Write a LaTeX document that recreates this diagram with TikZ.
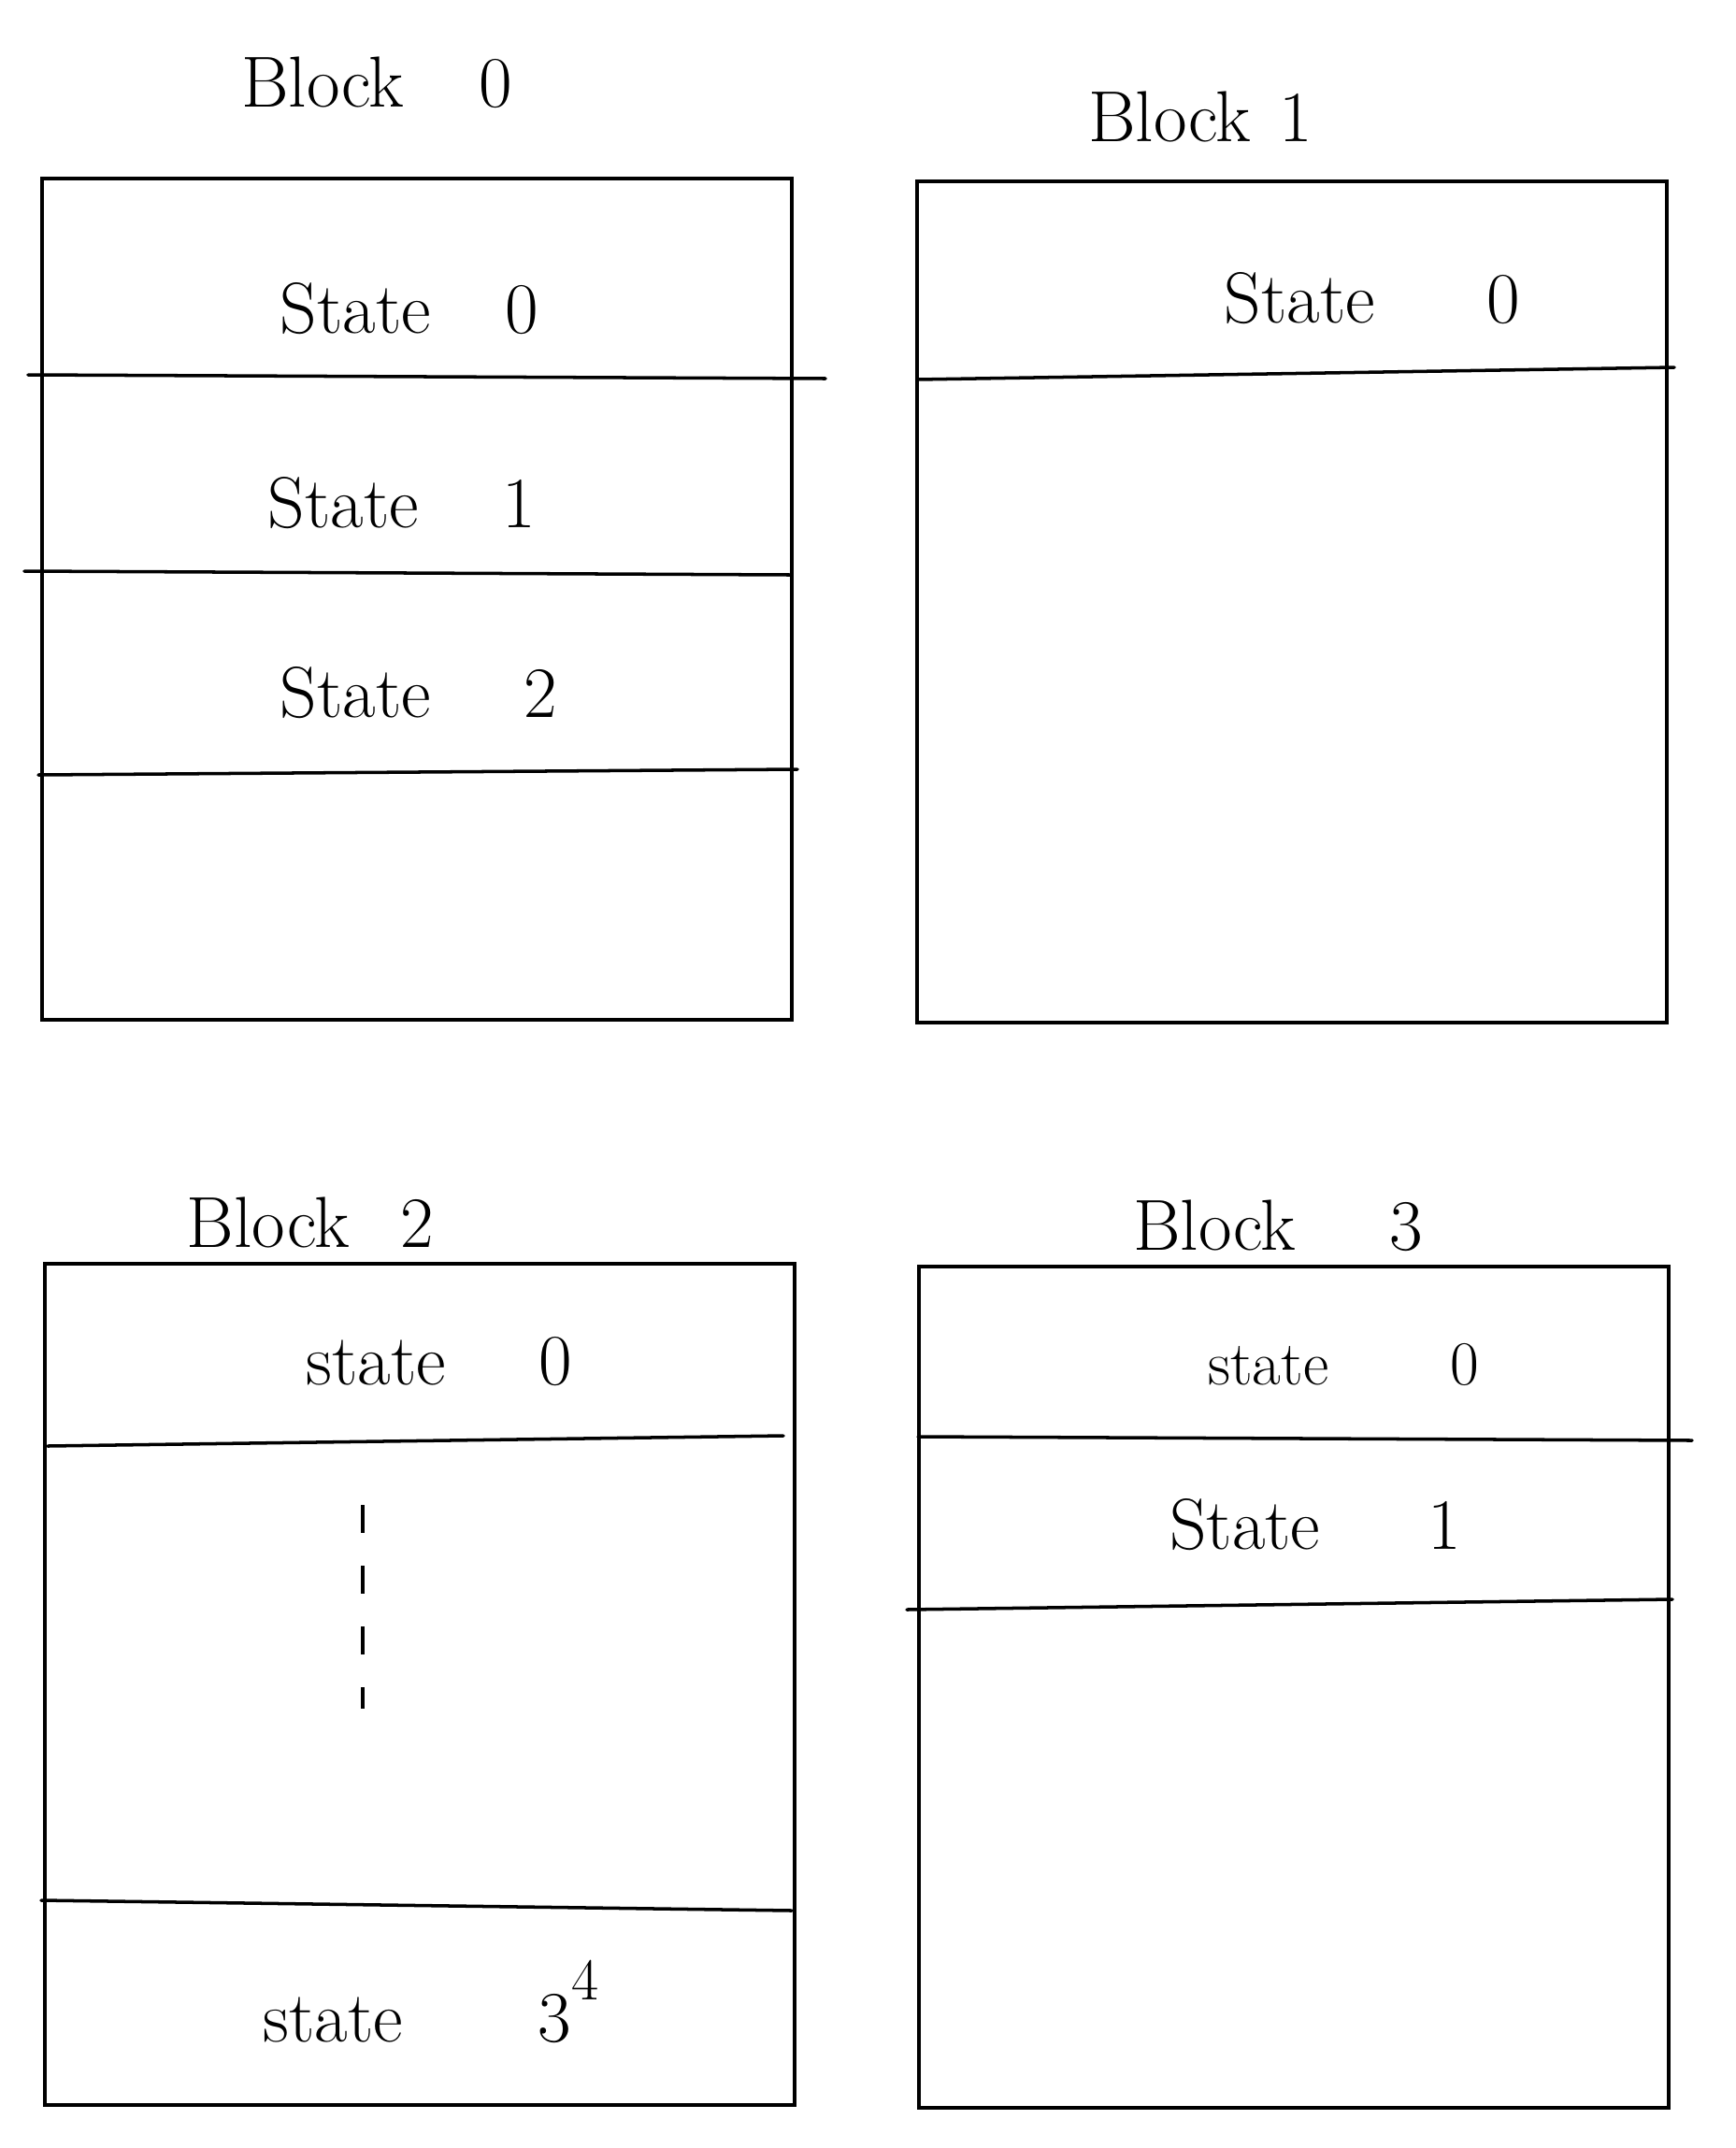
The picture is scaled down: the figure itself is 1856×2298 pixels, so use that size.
\documentclass[tikz,border=0pt]{standalone}
\usepackage{tikz}
\usetikzlibrary{positioning}

\begin{document}
\begin{tikzpicture}[
  x=0.1mm, y=-0.1mm,
  every node/.style={inner sep=0pt},
  blkbox/.style={draw, line width=1.1pt, minimum width=8.02cm, minimum height=9cm},
  blktitle/.style={anchor=base, font=\fontsize{22}{26}\selectfont},
  statelbl/.style={anchor=base, font=\fontsize{22}{26}\selectfont},
  sep/.style={line width=1pt, line cap=round}
]
\useasboundingbox (0,0) rectangle (1856,2298);

% Block 0
\node[blktitle] (t0) at (403,114) {Block\hspace{8mm}0};
\node[blkbox] (blk0) at (446,641) {};
\node[statelbl] (b0s0) at (438,356) {State\hspace{8mm}0};
\node[statelbl] (b0s1) at (430,564) {State\hspace{9mm}1};
\node[statelbl] (b0s2) at (448,767) {State\hspace{10mm}2};
\draw[sep] (30,401) -- (883,405);
\draw[sep] (26,611) -- (845,615);
\draw[sep] (41,829) -- (853,823);

% Block 1
\node[blktitle] (t1) at (1284,151) {Block\hspace{3mm}1};
\node[blkbox] (blk1) at (1382,644) {};
\node[statelbl] (b1s0) at (1468,345) {State\hspace{12mm}0};
\draw[sep] (981,406) -- (1791,393);

% Block 2
\node[blktitle] (t2) at (332,1334) {Block\hspace{5.5mm}2};
\node[blkbox] (blk2) at (449,1802) {};
\node[statelbl] (b2s0) at (470,1481) {state\hspace{10mm}0};
\draw[sep] (51,1547) -- (838,1536);
\coordinate (dtop) at (388,1610);
\coordinate (dbot) at (388,1828);
\draw[line width=0.9pt, dash pattern=on 3mm off 3.5mm] (dtop) -- (dbot);
\draw[sep] (44,2033) -- (847,2044);
\node[statelbl] (b2s3) at (461,2184) {state\hspace{14.5mm}3\raisebox{4.5mm}{\fontsize{18}{20}\selectfont 4}};

% Block 3
\node[blktitle] (t3) at (1367,1337) {Block\hspace{10mm}3};
\node[blkbox] (blk3) at (1384,1805) {};
\node[statelbl, font=\fontsize{19}{23}\selectfont] (b3s0) at (1437,1481) {state\hspace{13mm}0};
\draw[sep] (982,1537) -- (1810,1541);
\node[statelbl] (b3s1) at (1407,1657) {State\hspace{11.5mm}1};
\draw[sep] (970,1722) -- (1789,1711);

\end{tikzpicture}
\end{document}
